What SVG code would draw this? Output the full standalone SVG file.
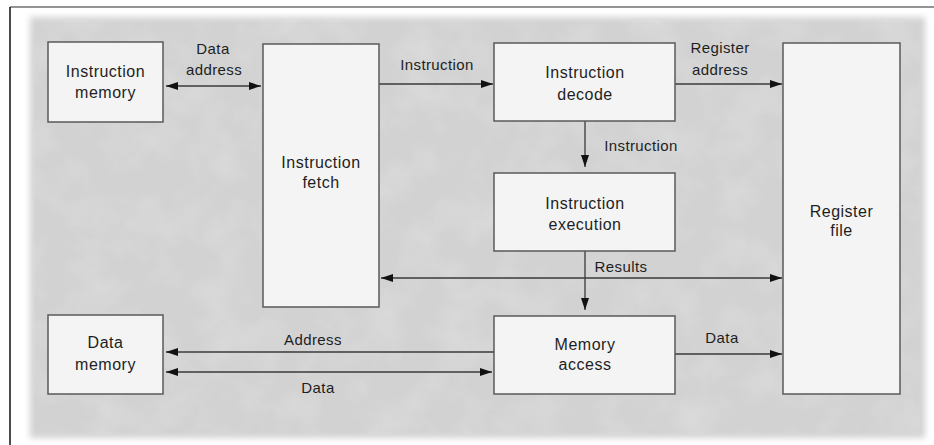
<svg xmlns="http://www.w3.org/2000/svg" width="934" height="445" viewBox="0 0 934 445">
<style>
.box{fill:#f4f4f4;stroke:#5a5a5a;stroke-width:1.5}
.t{font-family:"Liberation Sans",Arial,sans-serif;font-size:16px;fill:#1e1e1e;text-anchor:middle;letter-spacing:0.5px}
.lb{font-family:"Liberation Sans",Arial,sans-serif;font-size:15px;fill:#1e1e1e;text-anchor:middle;letter-spacing:0.4px}
.ln{fill:none;stroke:#3a3a3a;stroke-width:1.3}
</style>
<defs>
<marker id="ah" markerUnits="userSpaceOnUse" markerWidth="12" markerHeight="8" refX="12" refY="4" orient="auto-start-reverse">
<path d="M0,0 L12,4 L0,8 z" fill="#111"/>
</marker>
<filter id="soft" x="-5%" y="-5%" width="110%" height="110%">
<feGaussianBlur stdDeviation="3"/>
</filter>
<filter id="tex" x="0" y="0" width="100%" height="100%">
<feTurbulence type="fractalNoise" baseFrequency="0.025" numOctaves="4" seed="7"/>
<feColorMatrix type="matrix" values="0 0 0 0 1  0 0 0 0 1  0 0 0 0 1  0.9 0 0 0 -0.35"/>
</filter>
</defs>
<rect width="934" height="445" fill="#ffffff"/>
<rect x="30" y="17" width="895" height="421" fill="#d2d2d2" filter="url(#soft)"/>
<rect x="34" y="20" width="886" height="414" fill="#000" filter="url(#tex)" opacity="0.4"/>
<line x1="10" y1="7" x2="934" y2="7" stroke="#707070" stroke-width="1.5"/>
<line x1="10" y1="7" x2="10" y2="445" stroke="#111" stroke-width="1.5"/>

<g id="connectors">
<line class="ln" x1="166" y1="86" x2="261" y2="86" marker-start="url(#ah)" marker-end="url(#ah)"/>
<line class="ln" x1="379" y1="84" x2="493" y2="84" marker-end="url(#ah)"/>
<line class="ln" x1="675" y1="84" x2="782" y2="84" marker-end="url(#ah)"/>
<line class="ln" x1="585" y1="121" x2="585" y2="167" marker-end="url(#ah)"/>
<line class="ln" x1="381" y1="278" x2="782" y2="278" marker-start="url(#ah)" marker-end="url(#ah)"/>
<line class="ln" x1="585" y1="251" x2="585" y2="310" marker-end="url(#ah)"/>
<line class="ln" x1="675" y1="354" x2="782" y2="354" marker-end="url(#ah)"/>
<line class="ln" x1="494" y1="352" x2="166" y2="352" marker-end="url(#ah)"/>
<line class="ln" x1="166" y1="372" x2="492" y2="372" marker-start="url(#ah)" marker-end="url(#ah)"/>
<text class="lb" x="213" y="54">Data</text>
<text class="lb" x="214" y="75">address</text>
<text class="lb" x="437" y="70">Instruction</text>
<text class="lb" x="720" y="53">Register</text>
<text class="lb" x="720" y="75">address</text>
<text class="lb" x="641" y="151">Instruction</text>
<text class="lb" x="621" y="272">Results</text>
<text class="lb" x="722" y="343">Data</text>
<text class="lb" x="313" y="345">Address</text>
<text class="lb" x="318" y="393">Data</text>
</g>

<g id="instruction-memory">
<rect class="box" x="48" y="42" width="115" height="80"/>
<text class="t" x="105.5" y="77">Instruction</text>
<text class="t" x="105.5" y="98">memory</text>
</g>
<g id="instruction-fetch">
<rect class="box" x="263" y="44" width="116" height="263"/>
<text class="t" x="321" y="168">Instruction</text>
<text class="t" x="321" y="188">fetch</text>
</g>
<g id="instruction-decode">
<rect class="box" x="494" y="43" width="181" height="78"/>
<text class="t" x="585" y="78">Instruction</text>
<text class="t" x="585" y="100">decode</text>
</g>
<g id="instruction-execution">
<rect class="box" x="494" y="173" width="181" height="78"/>
<text class="t" x="585" y="209">Instruction</text>
<text class="t" x="585" y="230">execution</text>
</g>
<g id="memory-access">
<rect class="box" x="494" y="316" width="181" height="78"/>
<text class="t" x="585" y="350">Memory</text>
<text class="t" x="585" y="370">access</text>
</g>
<g id="register-file">
<rect class="box" x="783" y="43" width="117" height="351"/>
<text class="t" x="841.5" y="217">Register</text>
<text class="t" x="841.5" y="236">file</text>
</g>
<g id="data-memory">
<rect class="box" x="48" y="315" width="115" height="79"/>
<text class="t" x="105.5" y="348">Data</text>
<text class="t" x="105.5" y="370">memory</text>
</g>
</svg>
